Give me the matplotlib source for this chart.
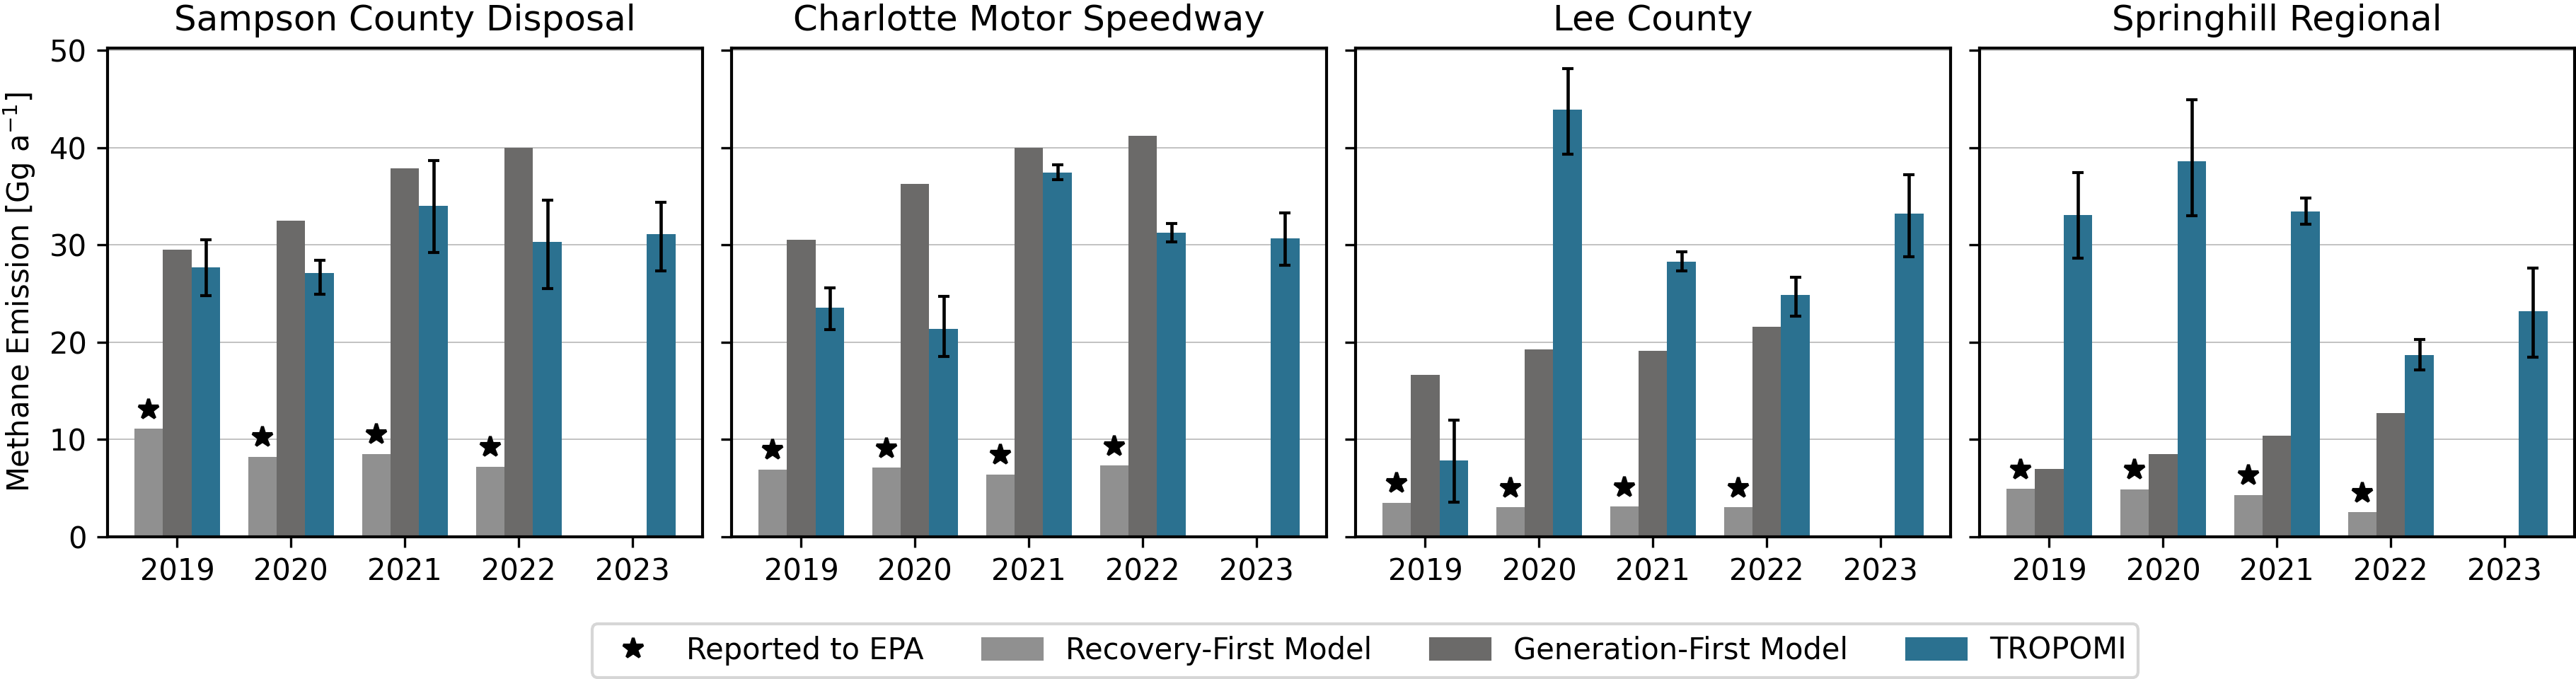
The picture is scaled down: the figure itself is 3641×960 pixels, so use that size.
import numpy as np
import matplotlib
matplotlib.use("Agg")
import matplotlib.pyplot as plt
from matplotlib.lines import Line2D
from matplotlib.patches import Patch

nan = np.nan

# landfill sites and years
sites = ["Sampson County Disposal", "Charlotte Motor Speedway", "Lee County", "Springhill Regional"]
years = [2019, 2020, 2021, 2022, 2023]

# emissions in Gg/yr, one list per site (same order as sites)
recovery_first = [
	[11.1, 8.2, 8.5, 7.2, nan],
	[6.9, 7.1, 6.4, 7.3, nan],
	[3.5, 3.0, 3.1, 3.0, nan],
	[4.9, 4.85, 4.3, 2.5, nan],
]
generation_first = [
	[29.5, 32.5, 37.9, 40.0, nan],
	[30.5, 36.25, 40.0, 41.2, nan],
	[16.6, 19.25, 19.1, 21.6, nan],
	[6.95, 8.5, 10.4, 12.7, nan],
]
tropomi = [
	[27.7, 27.1, 34.0, 30.3, 31.1],
	[23.55, 21.35, 37.4, 31.25, 30.7],
	[7.8, 43.9, 28.25, 24.85, 33.2],
	[33.05, 38.6, 33.45, 18.7, 23.15],
]
tropomi_low = [
	[24.8, 24.9, 29.2, 25.5, 27.3],
	[21.3, 18.5, 36.7, 30.3, 27.9],
	[3.55, 39.3, 27.3, 22.7, 28.8],
	[28.6, 33.0, 32.1, 17.15, 18.45],
]
tropomi_high = [
	[30.5, 28.4, 38.7, 34.6, 34.4],
	[25.6, 24.7, 38.2, 32.2, 33.3],
	[12.0, 48.1, 29.3, 26.7, 37.2],
	[37.4, 44.9, 34.8, 20.3, 27.6],
]
# years with a value reported to the EPA (star drawn above recovery-first bar)
reported_to_epa = [True, True, True, True, False]

c_rec = "#909090"
c_gen = "#6b6a69"
c_tro = "#2b7190"
width = 0.25
star_offset = 2.0

fig, axes = plt.subplots(1, 4, figsize=(3641/300, 960/300), dpi=300, sharey=True)
fig.subplots_adjust(left=0.0417, right=0.9994, top=0.9295, bottom=0.2097, wspace=0.0488)

x = np.arange(len(years))
for i, ax in enumerate(axes):
	rec = np.array(recovery_first[i])
	gen = np.array(generation_first[i])
	tro = np.array(tropomi[i])
	lo = tro - np.array(tropomi_low[i])
	hi = np.array(tropomi_high[i]) - tro

	ax.bar(x - width, rec, width, color=c_rec)
	ax.bar(x, gen, width, color=c_gen)
	ax.bar(x + width, tro, width, color=c_tro)
	ax.errorbar(x + width, tro, yerr=[lo, hi], fmt="none", ecolor="black",
		elinewidth=1.1, capsize=2, capthick=1.0)

	mask = np.array(reported_to_epa)
	ax.plot(x[mask] - width, rec[mask] + star_offset, linestyle="none",
		marker="*", markersize=7, color="black")

	ax.set_title(sites[i], fontsize=12)
	ax.set_xticks(x)
	ax.set_xticklabels([str(y) for y in years])
	ax.set_ylim(0, 50.25)
	ax.set_yticks([0, 10, 20, 30, 40, 50])
	ax.yaxis.grid(True, color="#b8b8b8", linewidth=0.4)
	ax.set_axisbelow(True)
	for s in ax.spines.values():
		s.set_linewidth(1.0)

axes[0].set_ylabel("Methane Emission [Gg a$^{-1}$]")

handles = [
	Line2D([], [], linestyle="none", marker="*", markersize=7, color="black", label="Reported to EPA"),
	Patch(color=c_rec, label="Recovery-First Model"),
	Patch(color=c_gen, label="Generation-First Model"),
	Patch(color=c_tro, label="TROPOMI"),
]
fig.legend(handles=handles, loc="center", bbox_to_anchor=(0.53, 0.0417), ncol=4)

fig.savefig("out.png", dpi=300)
